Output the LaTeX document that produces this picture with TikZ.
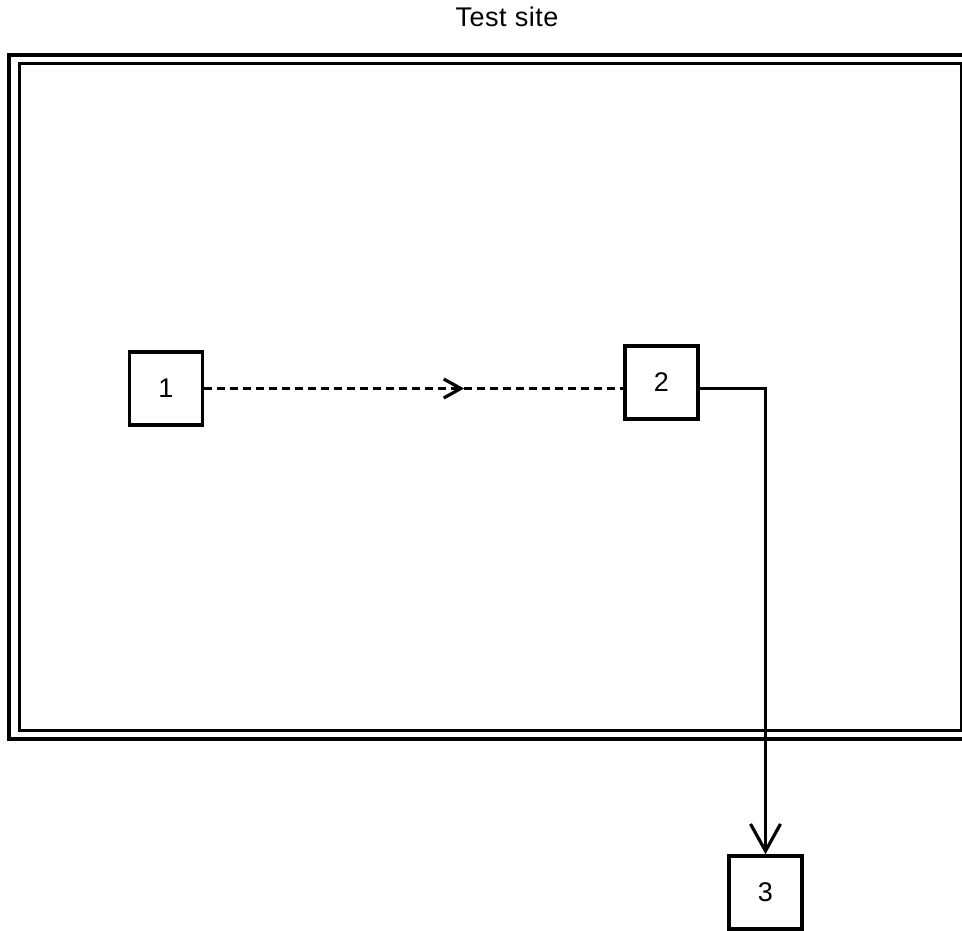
\documentclass[tikz,border=0pt]{standalone}
\usepackage{fontspec}
\setmainfont{Liberation Sans}
\newfontfamily\titlefont[LetterSpace=2]{Liberation Sans}
\usepackage{tikz}
\usetikzlibrary{
  arrows.meta,
  calc,
  positioning,
  decorations.markings,
}

\begin{document}
\begin{tikzpicture}[
  x=1pt, y=-1pt,
  station/.style={draw, line width=3.5pt, minimum size=73pt, inner sep=0pt, font=\fontsize{27}{27}\selectfont},
  frame/.style={line width=3.5pt},
  link/.style={line width=3.2pt},
  midarrow/.style={postaction={decorate, decoration={markings,
      mark=at position 0.62 with {\arrow[line width=3.2pt]{Straight Barb[length=17pt,width=19pt]}}}}}
]
\useasboundingbox (0,0) rectangle (962,931);
\clip (0,0) rectangle (962,931);
\node[font=\titlefont\fontsize{27}{27}\selectfont] (t) at (507,17) {Test site};
% site frame, double line
\draw[frame] (9,55) rectangle (990,739);
\draw[frame, line width=3pt] (19,64) rectangle (961,730);
\node[station] (s1) at (166,388.5) {\raisebox{-2pt}{1}};
\node[station] (s2) at (661.5,382.5) {\raisebox{-2pt}{2}};
\node[station] (s3) at (765.5,892.5) {\raisebox{-2pt}{3}};
\coordinate (c) at (s2.east |- s1.east);
\draw[link, dash pattern=on 8pt off 5pt, midarrow] (s1.east) -- (s1.east -| s2.west);
\draw[link, -{Straight Barb[length=27pt,width=30pt]}] (c) -| (s3.north);
\end{tikzpicture}
\end{document}
